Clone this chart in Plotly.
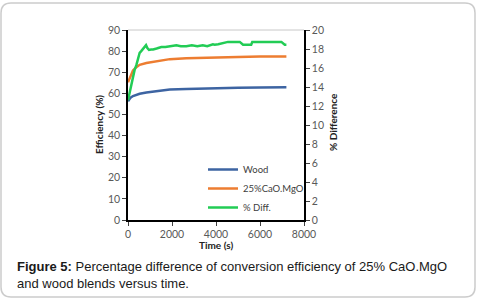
import plotly.graph_objects as go

# Time (s)
t_wood = [0, 100, 227, 380, 530, 835, 1140, 1500, 1900, 2650, 3400, 4170, 5000, 6000, 7200]
wood = [56.2, 57.8, 58.7, 59.3, 59.8, 60.4, 60.9, 61.4, 61.8, 62.0, 62.3, 62.6, 62.7, 62.8, 62.9]

t_cao = [0, 100, 227, 380, 530, 835, 1140, 1500, 1900, 2650, 3400, 4170, 5000, 6000, 7200]
cao = [65.2, 68.0, 70.8, 72.4, 73.5, 74.4, 75.0, 75.7, 76.2, 76.6, 76.9, 77.1, 77.2, 77.4, 77.5]

t_diff = [0, 100, 227, 300, 380, 455, 530, 610, 700, 760, 820, 880, 955, 1050, 1140, 1300, 1515, 1700, 1900,
          2200, 2400, 2650, 2900, 3150, 3400, 3600, 3860, 3940, 4100, 4400, 4545, 5080, 5230, 5600, 5650, 6970, 7125, 7200]
diff = [12.6, 13.8, 15.2, 15.8, 16.3, 17.1, 17.6, 17.8, 18.1, 18.3, 18.4, 18.1, 17.9, 17.95, 17.95, 18.05, 18.2, 18.2, 18.3,
        18.4, 18.3, 18.3, 18.4, 18.3, 18.4, 18.3, 18.5, 18.45, 18.5, 18.7, 18.75, 18.75, 18.45, 18.45, 18.75, 18.75, 18.45, 18.45]

x_ticks = [0, 2000, 4000, 6000, 8000]
y_ticks = list(range(0, 91, 10))
y2_ticks = list(range(0, 21, 2))

W, H = 477, 298
L, R, T, B = 128, 304, 30, 220

def px(x):
    return (x - L) / (R - L)

def py(y):
    return (B - y) / (B - T)

FONT = "Lato, Open Sans, Liberation Sans, Arial"
tickfont = dict(family=FONT, size=10.5, color="#595959")

fig = go.Figure()
fig.add_trace(go.Scatter(x=t_wood, y=wood, name="Wood", mode="lines",
                         line=dict(color="#3D64A2", width=2.5)))
fig.add_trace(go.Scatter(x=t_cao, y=cao, name="25%CaO.MgO", mode="lines",
                         line=dict(color="#ED7D31", width=2.5)))
fig.add_trace(go.Scatter(x=t_diff, y=diff, name="% Diff.", mode="lines", yaxis="y2",
                         line=dict(color="#22CC55", width=2.5)))

fig.update_layout(
    width=W, height=H,
    margin=dict(l=L, r=W - R, t=T, b=H - B, autoexpand=False),
    paper_bgcolor="white", plot_bgcolor="white",
    showlegend=True,
    legend=dict(x=px(203), y=py(155), xanchor="left", yanchor="top",
                font=dict(family=FONT, size=9.5, color="#404040"),
                bgcolor="rgba(0,0,0,0)", itemwidth=30, tracegroupgap=0),
    xaxis=dict(range=[0, 8000], tickvals=x_ticks, ticks="outside", ticklen=4,
               tickcolor="#404040", showline=True, linecolor="black", linewidth=1.5,
               showgrid=False, zeroline=False, tickfont=tickfont, automargin=False),
    yaxis=dict(range=[0, 90], tickvals=y_ticks, ticks="outside", ticklen=4,
               tickcolor="#404040", showline=True, linecolor="black", linewidth=1.5,
               showgrid=False, zeroline=False, tickfont=tickfont, automargin=False),
    yaxis2=dict(range=[0, 20], tickvals=y2_ticks, ticks="outside", ticklen=4,
                tickcolor="#404040", showline=True, linecolor="black", linewidth=1.5,
                overlaying="y", side="right", showgrid=False, zeroline=False,
                tickfont=tickfont, automargin=False),
    shapes=[
        dict(type="line", xref="paper", yref="paper", x0=0, x1=1, y0=1, y1=1,
             line=dict(color="#c8c8c8", width=1)),
        dict(type="path", xref="paper", yref="paper",
             path=("M {a},{b} L {c},{b} Q {r},{b} {r},{d} L {r},{e} Q {r},{f} {c},{f} "
                   "L {a},{f} Q {l},{f} {l},{e} L {l},{d} Q {l},{b} {a},{b} Z").format(
                 l=px(1), r=px(475), b=py(3), f=py(297),
                 a=px(11), c=px(465), d=py(13), e=py(287)),
             line=dict(color="#cccccc", width=1.5), fillcolor="rgba(0,0,0,0)", layer="below"),
    ],
    annotations=[
        dict(text="<b>Efficiency (%)</b>", xref="paper", yref="paper", x=px(99), y=py(125),
             textangle=-90, showarrow=False, xanchor="center", yanchor="middle",
             font=dict(family=FONT, size=10, color="#222")),
        dict(text="<b>% Difference</b>", xref="paper", yref="paper", x=px(333), y=py(122),
             textangle=-90, showarrow=False, xanchor="center", yanchor="middle",
             font=dict(family=FONT, size=10, color="#222")),
        dict(text="<b>Time (s)</b>", xref="paper", yref="paper", x=px(216), y=py(245),
             showarrow=False, xanchor="center", yanchor="middle",
             font=dict(family=FONT, size=10, color="#222")),
        dict(text="<b>Figure 5:</b> Percentage difference of conversion efficiency of 25% CaO.MgO<br>and wood blends versus time.",
             xref="paper", yref="paper", x=px(15), y=py(257), showarrow=False,
             xanchor="left", yanchor="top", align="left",
             font=dict(family="Liberation Sans, Arial", size=13, color="#1a1a1a")),
    ],
)

fig.write_html("out.html", config={"displayModeBar": False},
               post_script="document.body.style.margin='0';document.body.style.overflow='hidden';")
